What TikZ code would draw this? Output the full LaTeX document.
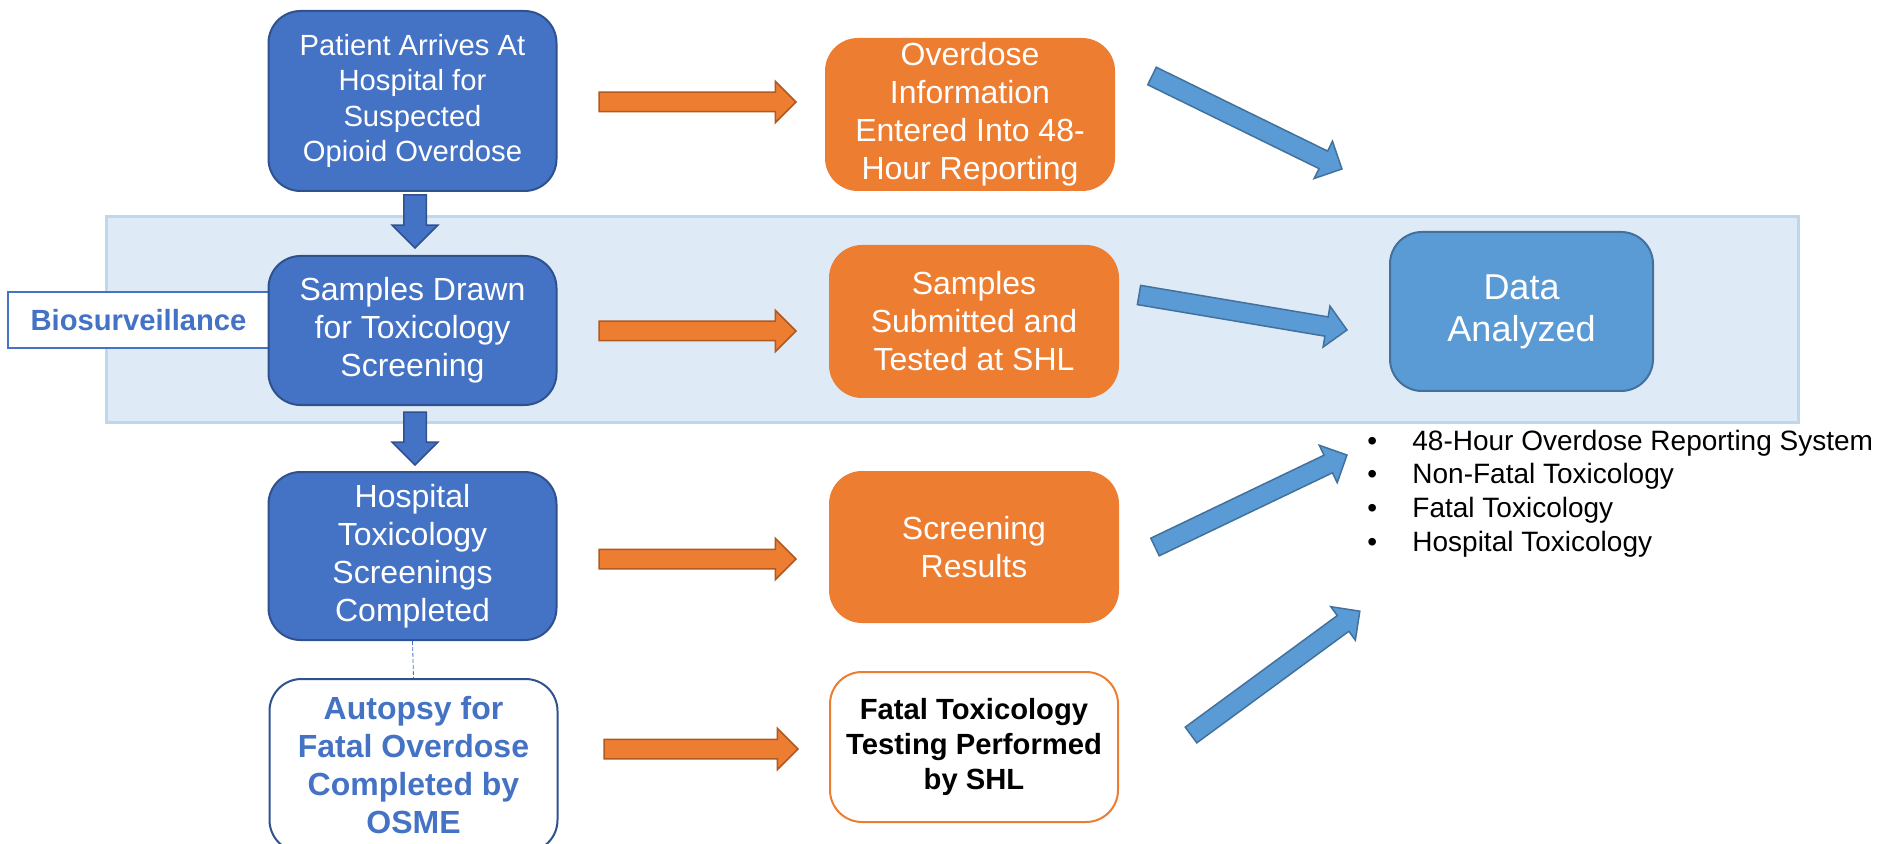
\documentclass[tikz,border=0pt]{standalone}
\usepackage{fontspec}
\setmainfont{Liberation Sans}
\usetikzlibrary{shapes.arrows,calc}

\definecolor{darkblue}{HTML}{4472C4}
\definecolor{darkblueedge}{HTML}{2F528F}
\definecolor{midblue}{HTML}{5B9BD5}
\definecolor{midblueedge}{HTML}{41719C}
\definecolor{orangefill}{HTML}{ED7D31}
\definecolor{orangeedge}{HTML}{AE5A21}
\definecolor{bandfill}{HTML}{DEEBF7}
\definecolor{bandedge}{HTML}{BDD7EE}

% block arrow between two named points: [style]{name}{from}{to}
\newcommand{\blockarrow}[4][]{%
  \path let \p1=(#3), \p2=(#4), \n1={atan2(\y2-\y1,\x2-\x1)}, \n2={veclen(\x2-\x1,\y2-\y1)} in
    (#3) node[blockarr, #1, rotate=\n1, minimum height=\n2, anchor=tail] (#2) {};}

\begin{document}
\begin{tikzpicture}[x=0.5pt, y=-0.5pt,
    stepbox/.style={rounded corners=16pt, minimum width=144pt, align=center, line width=1pt, inner sep=0pt,
      font=\fontsize{16}{19}\selectfont},
    bluebox/.style={stepbox, fill=darkblue, draw=darkblueedge, text=white},
    orangebox/.style={stepbox, fill=orangefill, draw=orangefill, text=white},
    blockarr/.style={single arrow, single arrow head extend=5.5pt, inner xsep=0pt, inner ysep=4.5pt,
      outer sep=0pt, line width=0.75pt},
    orangearr/.style={fill=orangefill, draw=orangeedge},
    bluearr/.style={fill=midblue, draw=midblueedge},
    downarr/.style={fill=darkblue, draw=darkblueedge, single arrow head extend=5.75pt, inner ysep=5.25pt}]
    \clip (0,0) rectangle (1878,844);

    % biosurveillance band
    \draw[fill=bandfill, draw=bandedge, line width=1.5pt] (106,217) rectangle (1798,422);
    \node[draw=darkblue, fill=white, line width=1pt, minimum width=130.5pt, minimum height=28pt, inner sep=0pt,
      text=darkblue, font=\bfseries\fontsize{14.6}{17}\selectfont] (bio) at (138.5,320) {Biosurveillance};

    % left column
    \node[bluebox, minimum height=90pt, font=\fontsize{14.6}{17.8}\selectfont] (patient) at (412.5,101)
      {Patient Arrives At\\Hospital for\\Suspected\\Opioid Overdose};
    \node[bluebox, minimum height=74.5pt] (drawn) at (412.5,330.5) {Samples Drawn\\for Toxicology\\Screening};
    \node[bluebox, minimum height=84pt] (hosp) at (412.5,556) {Hospital\\Toxicology\\Screenings\\Completed};
    \node[stepbox, fill=white, draw=darkblueedge, text=darkblue, minimum height=86.5pt,
      font=\bfseries\fontsize{16}{19}\selectfont] (autopsy) at (413.5,765.5)
      {Autopsy for\\Fatal Overdose\\Completed by\\OSME};
    \draw[darkblue, line width=0.4pt, dash pattern=on 2pt off 1pt] (hosp.south) -- (autopsy.north);

    % middle column
    \node[orangebox, minimum height=75.5pt] (entered) at (970,114.5)
      {Overdose\\Information\\Entered Into 48-\\Hour Reporting};
    \node[orangebox, minimum height=75.5pt] (tested) at (974,321.5) {Samples\\Submitted and\\Tested at SHL};
    \node[orangebox, minimum height=75pt] (results) at (974,547) {Screening\\Results};
    \node[stepbox, fill=white, draw=orangefill, text=black, minimum height=75pt,
      font=\bfseries\fontsize{14.6}{17.6}\selectfont] (fataltox) at (974,747)
      {Fatal Toxicology\\Testing Performed\\by SHL};

    % right column
    \node[stepbox, fill=midblue, draw=midblueedge, text=white, minimum width=131.5pt, minimum height=79.5pt,
      font=\fontsize{18}{21}\selectfont] (data) at (1521.5,311.5) {Data\\Analyzed};
    \node[anchor=west, inner sep=0pt, font=\fontsize{14}{16.8}\selectfont] (sources) at (1367,494)
      {\begin{tabular}{@{}l@{\hspace{17.6pt}}l@{}}
        \textbullet & 48-Hour Overdose Reporting System\\
        \textbullet & Non-Fatal Toxicology\\
        \textbullet & Fatal Toxicology\\
        \textbullet & Hospital Toxicology
      \end{tabular}};

    % arrow end points
    \coordinate (d1s) at (415,195);  \coordinate (d1e) at (415,248);
    \coordinate (d2s) at (415,412);  \coordinate (d2e) at (415,465);
    \coordinate (o1s) at (599,102);  \coordinate (o1e) at (796,102);
    \coordinate (o2s) at (599,331);  \coordinate (o2e) at (796,331);
    \coordinate (o3s) at (599,559);  \coordinate (o3e) at (796,559);
    \coordinate (o4s) at (604,749);  \coordinate (o4e) at (798,749);
    \coordinate (b1s) at (1152,76);  \coordinate (b1e) at (1342,169);
    \coordinate (b2s) at (1139,295); \coordinate (b2e) at (1347,330);
    \coordinate (b3s) at (1155,547); \coordinate (b3e) at (1347,455);
    \coordinate (b4s) at (1191,735); \coordinate (b4e) at (1360,611);

    \blockarrow[downarr]{down1}{d1s}{d1e}
    \blockarrow[downarr]{down2}{d2s}{d2e}
    \blockarrow[orangearr]{toentered}{o1s}{o1e}
    \blockarrow[orangearr]{totested}{o2s}{o2e}
    \blockarrow[orangearr]{toresults}{o3s}{o3e}
    \blockarrow[orangearr]{tofatal}{o4s}{o4e}
    \blockarrow[bluearr]{fromentered}{b1s}{b1e}
    \blockarrow[bluearr]{fromtested}{b2s}{b2e}
    \blockarrow[bluearr]{fromresults}{b3s}{b3e}
    \blockarrow[bluearr]{fromfatal}{b4s}{b4e}
\end{tikzpicture}
\end{document}
